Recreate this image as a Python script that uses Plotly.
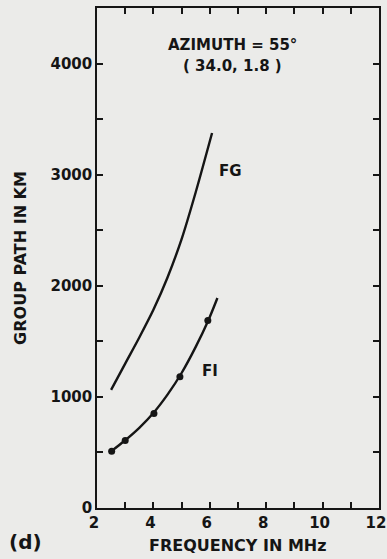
import plotly.graph_objects as go

# FG trace (group path vs frequency)
fg_freq = [2.5, 3.0, 3.5, 4.0, 4.5, 5.0, 5.5, 6.08]
fg_path = [1063, 1300, 1535, 1784, 2075, 2420, 2842, 3375]

# FI trace line
fi_freq = [2.5, 3.0, 3.5, 4.0, 4.5, 5.0, 5.5, 5.95, 6.27]
fi_path = [510, 610, 722, 855, 1020, 1215, 1450, 1690, 1890]

# FI measured points
fi_pts_freq = [2.52, 3.0, 4.02, 4.94, 5.93]
fi_pts_path = [510, 608, 850, 1182, 1688]

x_tickvals = list(range(2, 13))
x_ticktext = ["2", "", "4", "", "6", "", "8", "", "10", "", "12"]
y_tickvals = [0, 500, 1000, 1500, 2000, 2500, 3000, 3500, 4000]
y_ticktext = ["0", "", "1000", "", "2000", "", "3000", "", "4000"]

ink = "#151515"
bg = "#ebebe9"
font_family = "DejaVu Sans"

fig = go.Figure()
fig.add_trace(go.Scatter(x=fg_freq, y=fg_path, mode="lines",
                         line=dict(color=ink, width=2.4, shape="spline", smoothing=0.8),
                         showlegend=False, hoverinfo="skip"))
fig.add_trace(go.Scatter(x=fi_freq, y=fi_path, mode="lines",
                         line=dict(color=ink, width=2.4, shape="spline", smoothing=0.8),
                         showlegend=False, hoverinfo="skip"))
fig.add_trace(go.Scatter(x=fi_pts_freq, y=fi_pts_path, mode="markers",
                         marker=dict(color=ink, size=7),
                         showlegend=False, hoverinfo="skip"))

annots = [
    dict(x=6.8, y=4170, text="<b>AZIMUTH = 55°</b>", size=15),
    dict(x=6.8, y=3975, text="<b>( 34.0, 1.8 )</b>", size=15),
    dict(x=6.72, y=3030, text="<b>FG</b>", size=15),
    dict(x=6.0, y=1230, text="<b>FI</b>", size=15),
]
for a in annots:
    fig.add_annotation(x=a["x"], y=a["y"], xref="x", yref="y", text=a["text"],
                       showarrow=False, xanchor="center", yanchor="middle",
                       font=dict(family=font_family, size=a["size"], color=ink))

fig.add_annotation(x=-0.255, y=-0.068, xref="paper", yref="paper", text="<b>(d)</b>",
                   showarrow=False, xanchor="center", yanchor="middle",
                   font=dict(family=font_family, size=20, color=ink))

# x-axis title as paper annotation (axis automargin off)
fig.add_annotation(x=0.5, y=-0.074, xref="paper", yref="paper",
                   text="<b>FREQUENCY IN MHz</b>", showarrow=False,
                   xanchor="center", yanchor="middle",
                   font=dict(family=font_family, size=16, color=ink))

fig.update_layout(
    width=387, height=559,
    margin=dict(l=97, r=8, t=8, b=51, autoexpand=False),
    paper_bgcolor=bg, plot_bgcolor=bg,
    font=dict(family=font_family, size=15, color=ink),
    xaxis=dict(range=[2, 12], tickvals=x_tickvals,
               ticktext=["<b>%s</b>" % t if t else "" for t in x_ticktext],
               ticks="inside", ticklen=6, tickwidth=1.5, tickcolor=ink,
               showline=True, linecolor=ink, linewidth=1.5, mirror="allticks",
               showgrid=False, zeroline=False, ticklabelshift=-3,
               automargin=False,
               tickfont=dict(size=15, family=font_family)),
    yaxis=dict(range=[0, 4500], tickvals=y_tickvals,
               ticktext=["<b>%s</b>" % t if t else "" for t in y_ticktext],
               ticks="inside", ticklen=6, tickwidth=1.5, tickcolor=ink,
               showline=True, linecolor=ink, linewidth=1.5, mirror="allticks",
               showgrid=False, zeroline=False,
               title=dict(text="<b>GROUP PATH IN KM</b>", standoff=20,
                          font=dict(size=16)),
               tickfont=dict(size=15, family=font_family)),
)

fig.write_html("out.html", config={"displayModeBar": False},
               post_script="document.body.style.margin='0';")
